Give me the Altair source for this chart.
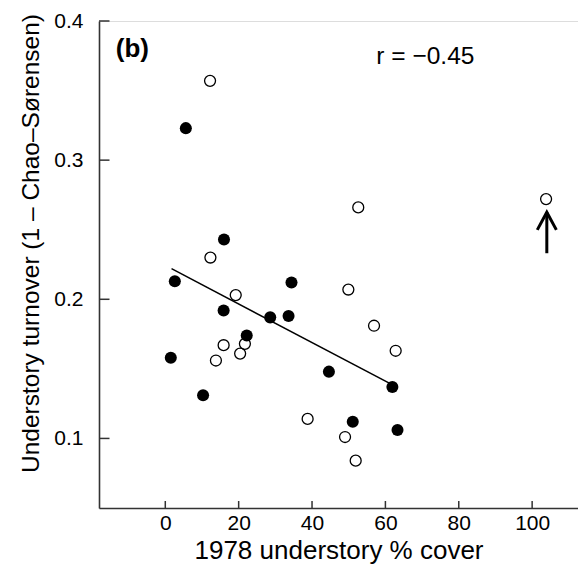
import altair as alt
import pandas as pd

# ---- data ----
filled_x = [5.6, 16.0, 2.6, 34.4, 15.9, 28.6, 33.6, 22.2, 1.5, 44.6, 10.3, 61.9, 51.1, 63.3]
filled_y = [0.323, 0.243, 0.213, 0.212, 0.192, 0.187, 0.188, 0.174, 0.158, 0.148, 0.131, 0.137, 0.112, 0.106]
open_x = [12.2, 12.3, 19.2, 21.7, 15.9, 20.4, 13.8, 38.8, 52.6, 49.9, 56.9, 62.8, 49.0, 51.9, 103.8]
open_y = [0.357, 0.230, 0.203, 0.168, 0.167, 0.161, 0.156, 0.114, 0.266, 0.207, 0.181, 0.163, 0.101, 0.084, 0.272]
fit_x = [1.7, 63.0]
fit_y = [0.222, 0.137]
arrow_x = [104.0, 104.0, 101.4, 104.0, 106.6]
arrow_y = [0.2331, 0.2626, 0.2499, 0.2626, 0.2499]
arrow_part = ["shaft", "shaft", "head", "head", "head"]
x_ticks = [0, 20, 40, 60, 80, 100]
y_ticks = [0.1, 0.2, 0.3, 0.4]
x_domain = [-18.07, 112.5]
y_domain = [0.05, 0.4]
panel_label = "(b)"
r_label = "r = \u22120.45"
x_title = "1978 understory % cover"
y_title = "Understory turnover (1 \u2013 Chao\u2013S\u00f8rensen)"

W, H = 479, 487
FONT = "Liberation Sans"
AX = "#333333"

xs = alt.Scale(domain=x_domain, nice=False, zero=False)
ys = alt.Scale(domain=y_domain, nice=False, zero=False)

x_axis = alt.Axis(values=x_ticks, ticks=False, tickSize=0, grid=False, domainColor=AX, domainWidth=1.6,
                  labelFont=FONT, labelFontSize=21, labelColor="black", labelPadding=4,
                  title=x_title, titleFont=FONT, titleFontSize=26, titleFontWeight="normal",
                  titleColor="black", titlePadding=4)
y_axis = alt.Axis(values=y_ticks, ticks=False, tickSize=0, grid=False, domainColor=AX, domainWidth=1.6,
                  labelFont=FONT, labelFontSize=21, labelColor="black", labelPadding=16,
                  format=".1f", title=y_title, titleFont=FONT, titleFontSize=24.5,
                  titleFontWeight="normal", titleColor="black", titlePadding=10, titleY=222)

filled_df = pd.DataFrame({"x": filled_x, "y": filled_y})
open_df = pd.DataFrame({"x": open_x, "y": open_y})
fit_df = pd.DataFrame({"x": fit_x, "y": fit_y})
arrow_df = pd.DataFrame({"x": arrow_x, "y": arrow_y, "part": arrow_part,
                         "ord": list(range(len(arrow_x)))})
xt_df = pd.DataFrame({"t": x_ticks})
yt_df = pd.DataFrame({"t": y_ticks})

base_axes = alt.Chart(filled_df).mark_point(opacity=0).encode(
    x=alt.X("x:Q", scale=xs, axis=x_axis),
    y=alt.Y("y:Q", scale=ys, axis=y_axis),
)

filled = alt.Chart(filled_df).mark_circle(size=145, color="black", opacity=1).encode(
    x=alt.X("x:Q", scale=xs), y=alt.Y("y:Q", scale=ys))

opened = alt.Chart(open_df).mark_point(shape="circle", size=120, filled=False, color="black",
                                       strokeWidth=1.3, opacity=1).encode(
    x=alt.X("x:Q", scale=xs), y=alt.Y("y:Q", scale=ys))

fit = alt.Chart(fit_df).mark_line(color="black", strokeWidth=1.5).encode(
    x=alt.X("x:Q", scale=xs), y=alt.Y("y:Q", scale=ys))

arrow = alt.Chart(arrow_df).mark_line(color="black", strokeWidth=3, strokeCap="butt",
                                      strokeJoin="miter").encode(
    x=alt.X("x:Q", scale=xs), y=alt.Y("y:Q", scale=ys), detail="part:N", order="ord:Q")

xt = alt.Chart(xt_df).mark_rule(color=AX, strokeWidth=1.5).encode(
    x=alt.X("t:Q", scale=xs), y=alt.value(H), y2=alt.value(H - 7))
yt = alt.Chart(yt_df).mark_rule(color=AX, strokeWidth=1.5).encode(
    y=alt.Y("t:Q", scale=ys), x=alt.value(0), x2=alt.value(10.5))

txt_b = alt.Chart(pd.DataFrame({"x": [-13.5], "y": [0.3739], "t": [panel_label]})).mark_text(
    font=FONT, fontSize=26, fontWeight="bold", align="left", baseline="alphabetic", color="black"
).encode(x=alt.X("x:Q", scale=xs), y=alt.Y("y:Q", scale=ys), text="t:N")

txt_r = alt.Chart(pd.DataFrame({"x": [70.9], "y": [0.3690], "t": [r_label]})).mark_text(
    font=FONT, fontSize=24.5, align="center", baseline="alphabetic", color="black"
).encode(x=alt.X("x:Q", scale=xs), y=alt.Y("y:Q", scale=ys), text="t:N")

chart = alt.layer(base_axes, fit, opened, filled, arrow, xt, yt, txt_b, txt_r).properties(
    width=W, height=H,
    padding={"left": 91, "top": 13, "right": 0, "bottom": 65},
    autosize=alt.AutoSizeParams(type="none"),
).configure_view(stroke=None).configure(background="white")

chart.save("out.html", embed_options={"renderer": "svg", "actions": False})
